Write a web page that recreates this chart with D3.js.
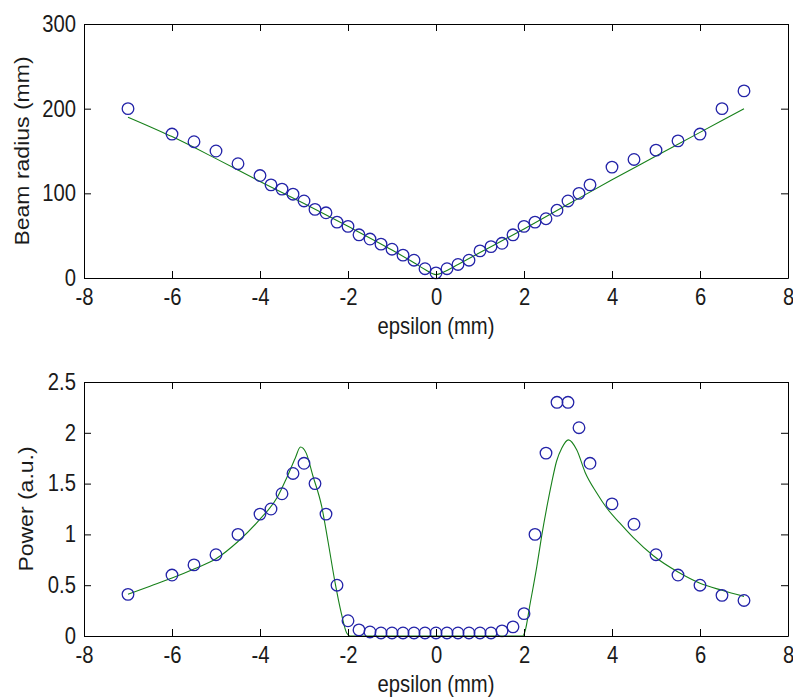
<!DOCTYPE html>
<html>
<head>
<meta charset="utf-8">
<script src="https://cdn.jsdelivr.net/npm/d3@7"></script>
<style>
  body { margin: 0; background: #fff; }
  text { font-family: "Liberation Sans", Arial, Helvetica, sans-serif; }
</style>
</head>
<body>
<script>
// measured points (same epsilon positions in both panels)
const epsilon = [-7, -6, -5.5, -5, -4.5, -4, -3.75, -3.5, -3.25, -3, -2.75, -2.5, -2.25, -2, -1.75, -1.5, -1.25, -1,
                 -0.75, -0.5, -0.25, 0, 0.25, 0.5, 0.75, 1, 1.25, 1.5, 1.75, 2, 2.25, 2.5, 2.75, 3, 3.25, 3.5,
                 4, 4.5, 5, 5.5, 6, 6.5, 7];
const radius = [200, 170, 161, 150, 135, 121, 110, 105, 99, 91, 81, 77, 66, 61, 51, 46, 40, 34,
                27, 21, 11, 6, 11, 16, 21, 32, 37, 41, 51, 61, 66, 70, 80, 91, 100, 110,
                131, 140, 151, 162, 170, 200, 221];
const power = [0.41, 0.6, 0.7, 0.8, 1.0, 1.2, 1.25, 1.4, 1.6, 1.7, 1.5, 1.2, 0.5, 0.15, 0.06, 0.04, 0.03, 0.03,
               0.03, 0.03, 0.03, 0.03, 0.03, 0.03, 0.03, 0.03, 0.03, 0.05, 0.09, 0.22, 1.0, 1.8, 2.3, 2.3, 2.05, 1.7,
               1.3, 1.1, 0.8, 0.6, 0.5, 0.4, 0.35];

// fitted curves
const fitRadiusX = [-7, -6, -5, -4, -3, -2, -1, -0.5, -0.25, 0, 0.25, 0.5, 1, 2, 3, 4, 5, 6, 7];
const fitRadiusY = [190, 167, 141, 114, 88, 61, 33, 18, 10, 4, 9, 16, 30, 58, 87, 116, 144, 172, 200];

const fitPowerX = [-7, -6.5, -6, -5.5, -5, -4.5, -4, -3.6, -3.4, -3.2, -3.08, -2.95, -2.8, -2.6, -2.45, -2.3, -2.15, -2.03, -1.95,
                   1.97, 2.02, 2.14, 2.29, 2.4, 2.52, 2.63, 2.74, 2.86, 3.01, 3.2, 3.39, 3.65, 3.88, 4.18, 4.48, 4.94, 5.5, 6, 6.5, 7];
const fitPowerY = [0.41, 0.49, 0.57, 0.66, 0.76, 0.93, 1.15, 1.37, 1.55, 1.75, 1.86, 1.8, 1.58, 1.28, 0.92, 0.54, 0.22, 0.03, 0,
                   0, 0.04, 0.32, 0.68, 0.98, 1.27, 1.51, 1.72, 1.85, 1.93, 1.83, 1.61, 1.41, 1.26, 1.11, 0.97, 0.79, 0.63, 0.52, 0.45, 0.39];

const xTicks = [-8, -6, -4, -2, 0, 2, 4, 6, 8];
const radiusTicks = [0, 100, 200, 300];
const powerTicks = [0, 0.5, 1, 1.5, 2, 2.5];

const width = 793, height = 698;
const plotLeft = 84, plotRight = 788;
const squeeze = 0.88;   // text in the reference is a bit narrow
const fontSize = 23;
const blue = "#2323a8", green = "#17801a";

const svg = d3.select("body").append("svg")
    .attr("width", width)
    .attr("height", height)

const x = d3.scaleLinear().domain([-8, 8]).range([plotLeft, plotRight]);
const fmt = d => String(d);

function panel(y, yTicks, yLabel, yLabelX, markY, fitX, fitY) {
    const top = y.range()[1], bottom = y.range()[0];
    const g = svg.append("g");

    // fit curve
    const line = d3.line()
        .x(d => x(d[0]))
        .y(d => y(d[1]))
        .curve(d3.curveMonotoneX);
    g.append("path")
        .datum(fitX.map((d, i) => [d, fitY[i]]))
        .attr("d", line)
        .attr("fill", "none")
        .attr("stroke", green)
        .attr("stroke-width", 1.1)

    // measured points
    g.append("g").selectAll("circle")
        .data(epsilon.map((d, i) => [d, markY[i]]))
        .enter().append("circle")
        .attr("cx", d => x(d[0]))
        .attr("cy", d => y(d[1]))
        .attr("r", 5.8)
        .attr("fill", "none")
        .attr("stroke", blue)
        .attr("stroke-width", 1.3)

    // box with inward ticks
    const xb = g.append("g")
        .attr("transform", `translate(0,${bottom})`)
        .call(d3.axisBottom(x).tickValues(xTicks).tickSize(-7).tickSizeOuter(0).tickPadding(11).tickFormat(fmt));
    const xt = g.append("g")
        .attr("transform", `translate(0,${top})`)
        .call(d3.axisTop(x).tickValues(xTicks).tickSize(-7).tickSizeOuter(0).tickFormat(""));
    const yl = g.append("g")
        .attr("transform", `translate(${plotLeft},0)`)
        .call(d3.axisLeft(y).tickValues(yTicks).tickSize(-7).tickSizeOuter(0).tickPadding(8).tickFormat(fmt));
    const yr = g.append("g")
        .attr("transform", `translate(${plotRight},0)`)
        .call(d3.axisRight(y).tickValues(yTicks).tickSize(-7).tickSizeOuter(0).tickFormat(""));

    [xb, xt, yl, yr].forEach(a => {
        a.attr("color", "#000");
        a.selectAll("text")
            .attr("font-size", fontSize)
            .attr("font-family", null)
            .attr("fill", "#1a1a1a")
            .attr("transform", `scale(${squeeze},1)`);
    });
    yl.selectAll("text").attr("x", -8 / squeeze);

    // axis labels
    g.append("text")
        .attr("transform", `translate(${(plotLeft + plotRight) / 2},${bottom + 56}) scale(${squeeze},1)`)
        .attr("text-anchor", "middle")
        .attr("font-size", fontSize)
        .attr("fill", "#1a1a1a")
        .text("epsilon (mm)")

    g.append("text")
        .attr("transform", `translate(${yLabelX},${(top + bottom) / 2}) scale(${squeeze},1) rotate(-90)`)
        .attr("text-anchor", "middle")
        .attr("font-size", fontSize)
        .attr("fill", "#1a1a1a")
        .text(yLabel)
}

const yRadius = d3.scaleLinear().domain([0, 300]).range([278, 24]);
const yPower = d3.scaleLinear().domain([0, 2.5]).range([636, 382]);

panel(yRadius, radiusTicks, "Beam radius (mm)", 28.5, radius, fitRadiusX, fitRadiusY);
panel(yPower, powerTicks, "Power (a.u.)", 32.5, power, fitPowerX, fitPowerY);
</script>
</body>
</html>
